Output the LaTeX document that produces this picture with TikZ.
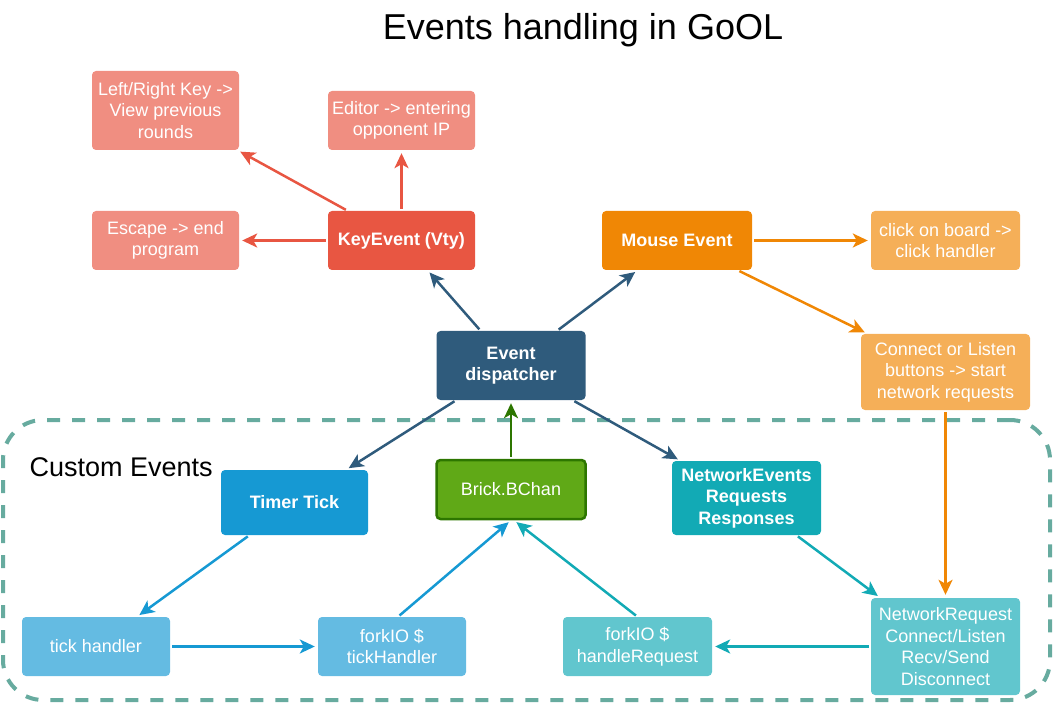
\documentclass[tikz,border=0pt]{standalone}
\usepackage{fontspec}
\setmainfont{Liberation Sans}
\usetikzlibrary{arrows.meta}

\definecolor{keyred}{HTML}{E85642}
\definecolor{keylight}{HTML}{F08E81}
\definecolor{mouseorange}{HTML}{F08705}
\definecolor{mouselight}{HTML}{F5AF58}
\definecolor{dispblue}{HTML}{2F5B7C}
\definecolor{tickblue}{HTML}{1699D3}
\definecolor{ticklight}{HTML}{64BBE2}
\definecolor{netteal}{HTML}{12AAB5}
\definecolor{netlight}{HTML}{61C6CE}
\definecolor{brickgreen}{HTML}{60A917}
\definecolor{brickdark}{HTML}{2D7600}
\definecolor{groupgreen}{HTML}{67AB9F}

\begin{document}
\begin{tikzpicture}[x=1pt, y=-1pt,
  box/.style={rounded corners=4pt, text=white, align=center, inner sep=2pt,
    minimum width=147pt, minimum height=59pt, font=\fontsize{18}{21.6}\selectfont},
  mainbox/.style={box, font=\fontsize{18}{21.6}\selectfont\bfseries},
  group/.style={draw=groupgreen, line width=4pt, dash pattern=on 13pt off 12pt, rounded corners=40pt},
  link/.style={-{Stealth[length=15pt, width=14pt, inset=4pt]}, line width=2.5pt,
    shorten <=2pt, shorten >=3pt}]
  \useasboundingbox (0,0) rectangle (1055,703);

  % Group
  \node [group, minimum width=1047pt, minimum height=280pt] (customevents) at (526.5,560) {};
  \node [anchor=west, font=\fontsize{27}{31}\selectfont] (customlabel) at (26,467) {Custom Events};
  \node [font=\fontsize{36}{40}\selectfont] (title) at (583,30) {Events handling in GoOL};

  % Nodes
  \node [mainbox, fill=keyred] (keyevent) at (401.5,240.5) {KeyEvent (Vty)};
  \node [box, fill=keylight, left of=keyevent, node distance=236pt] (escape) {Escape -> end\\program};
  \node [box, fill=keylight, above of=keyevent, node distance=120pt] (editor) {Editor -> entering\\opponent IP};
  \node [box, fill=keylight, above of=escape, node distance=130pt, minimum height=79pt] (viewrounds) {Left/Right Key ->\\View previous\\rounds};
  \node [mainbox, fill=mouseorange, right of=keyevent, node distance=275.5pt, minimum width=150pt] (mouse) {Mouse Event};
  \node [box, fill=mouselight, right of=mouse, node distance=268.5pt, minimum width=149pt] (click) {click on board ->\\click handler};
  \node [box, fill=mouselight, below of=click, node distance=131.5pt, minimum width=169pt, minimum height=76pt] (buttons) {Connect or Listen\\buttons -> start\\network requests};
  \node [mainbox, fill=dispblue, minimum width=149pt, minimum height=69pt] (dispatcher) at (511,365.5) {Event\\dispatcher};
  \node [box, fill=brickgreen, draw=brickdark, line width=2.5pt, below of=dispatcher, node distance=124pt, minimum width=149pt] (bchan) {Brick.BChan};
  \node [mainbox, fill=tickblue, minimum height=65pt] (timer) at (294.5,502.5) {Timer Tick};
  \node [mainbox, fill=netteal, minimum width=149pt, minimum height=74pt] (netevents) at (746.5,498) {NetworkEvents\\Requests\\Responses};
  \node [box, fill=netlight, below of=buttons, node distance=274.5pt, minimum width=149pt, minimum height=97pt] (netrequest) {NetworkRequest\\Connect/Listen\\Recv/Send\\Disconnect};
  \node [box, fill=ticklight, minimum width=148pt] (tickhandler) at (96,646.5) {tick handler};
  \node [box, fill=ticklight, right of=tickhandler, node distance=296pt, minimum width=148pt] (forktick) {forkIO \$\\tickHandler};
  \node [box, fill=netlight, left of=netrequest, node distance=308pt, minimum width=149pt] (forkrequest) {forkIO \$\\handleRequest};

  % Edges
  \draw [link, keyred] (keyevent) -- (viewrounds);
  \draw [link, keyred] (keyevent) -- (editor);
  \draw [link, keyred] (keyevent) -- (escape);
  \draw [link, dispblue] (dispatcher) -- (keyevent);
  \draw [link, dispblue] (dispatcher) -- (mouse);
  \draw [link, mouseorange] (mouse) -- (click);
  \draw [link, mouseorange] (mouse) -- (buttons);
  \draw [link, mouseorange] (buttons) -- (netrequest);
  \draw [link, dispblue] (dispatcher) -- (timer);
  \draw [link, dispblue] (dispatcher) -- (netevents);
  \draw [link, brickdark] (bchan) -- (dispatcher);
  \draw [link, tickblue] (timer) -- (tickhandler);
  \draw [link, tickblue] (tickhandler) -- (forktick);
  \draw [link, tickblue] ([xshift=6pt]forktick.north) -- (bchan.south);
  \draw [link, netteal] (forkrequest.north) -- ([xshift=3pt]bchan.south);
  \draw [link, netteal] (netevents) -- (netrequest);
  \draw [link, netteal] (netrequest) -- (forkrequest);
\end{tikzpicture}
\end{document}
